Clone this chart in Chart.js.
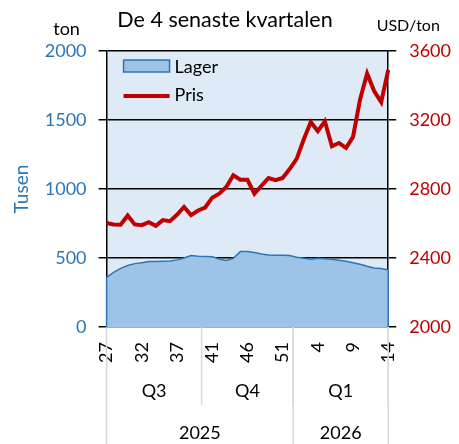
<!DOCTYPE html>
<html>
<head>
<meta charset="utf-8">
<script src="https://cdn.jsdelivr.net/npm/chart.js@4/dist/chart.umd.min.js"></script>
<style>
  body { margin: 0; background: #fff; }
  #wrap { width: 459px; height: 444px; }
</style>
</head>
<body>
<div id="wrap"><canvas id="lagerChart" width="459" height="444"></canvas></div>
<script>
// ------------------- Data -------------------//
// week numbers (week 40 is split between Q3 and Q4)
var weeks = ['27','28','29','30','31','32','33','34','35','36','37','38','39','40',
             '40','41','42','43','44','45','46','47','48','49','50','51','52',
             '1','2','3','4','5','6','7','8','9','10','11','12','13','14'];

var quarters = ['Q3', 'Q4', 'Q1'];
var quarterLengths = [14, 13, 14];
var years = ['2025', '2026'];
var yearLengths = [27, 14];

// Lager, thousand tons
var lager = [361, 397, 426, 446, 460, 467, 475, 475, 477, 479, 487, 501, 518, 513,
             511, 509, 494, 482, 499, 547, 547, 540, 530, 523, 521, 521, 518,
             506, 499, 492, 499, 496, 492, 484, 477, 467, 455, 441, 429, 424, 414];

// Pris, USD/ton
var pris = [2603, 2595, 2593, 2647, 2595, 2591, 2608, 2587, 2620, 2614, 2651, 2696, 2649, 2676,
            2693, 2750, 2773, 2812, 2880, 2854, 2854, 2773, 2819, 2864, 2851, 2864, 2916,
            2975, 3087, 3188, 3135, 3193, 3048, 3067, 3038, 3102, 3319, 3470, 3368, 3304, 3490];

var leftTicks = [0, 500, 1000, 1500, 2000];
var rightTicks = [2000, 2400, 2800, 3200, 3600];

var TITLE = 'De 4 senaste kvartalen';
var BLUE = '#2E75B6', RED = '#C00000', FONT = 'Lato';

// ------------------- Plugins -------------------//
var plotBackground = {
  id: 'plotBackground',
  beforeDraw: function(chart) {
    var a = chart.chartArea, ctx = chart.ctx;
    ctx.save();
    ctx.fillStyle = '#DEEBF7';
    ctx.fillRect(a.left, a.top, a.right - a.left, a.bottom - a.top);
    ctx.restore();
  }
};

// legend inside the plot, title and units on top, quarter/year rows under the x axis
var extras = {
  id: 'extras',
  afterDatasetsDraw: function(chart) {
    // close the area outline at both ends, like the original
    var pts = chart.getDatasetMeta(1).data, ctx = chart.ctx, bottom = chart.chartArea.bottom;
    var first = pts[0], last = pts[pts.length - 1];
    ctx.save();
    ctx.strokeStyle = chart.data.datasets[1].borderColor;
    ctx.lineWidth = 1.5;
    ctx.beginPath();
    ctx.moveTo(first.x, first.y);
    ctx.lineTo(first.x, bottom);
    ctx.moveTo(last.x, last.y);
    ctx.lineTo(last.x, bottom);
    ctx.stroke();
    ctx.restore();
  },
  afterDraw: function(chart) {
    var a = chart.chartArea, ctx = chart.ctx, x = chart.scales.x;
    var ds = chart.data.datasets;
    ctx.save();
    ctx.textBaseline = 'alphabetic';
    ctx.fillStyle = '#000';

    // title
    ctx.textAlign = 'center';
    ctx.font = '21.5px ' + FONT;
    ctx.fillText(TITLE, 225, 27);

    // legend
    ctx.textAlign = 'left';
    ctx.font = '18px ' + FONT;
    var lx = a.left + 17;
    ctx.fillStyle = ds[1].backgroundColor;
    ctx.fillRect(lx, a.top + 9, 46, 12);
    ctx.strokeStyle = ds[1].borderColor;
    ctx.lineWidth = 1.5;
    ctx.strokeRect(lx, a.top + 9, 46, 12);
    ctx.fillStyle = '#000';
    ctx.fillText(ds[1].label, lx + 51, a.top + 21.5);
    ctx.strokeStyle = ds[0].borderColor;
    ctx.lineWidth = 4;
    ctx.beginPath();
    ctx.moveTo(lx, a.top + 45);
    ctx.lineTo(lx + 46, a.top + 45);
    ctx.stroke();
    ctx.fillText(ds[0].label, lx + 51, a.top + 50);

    // units
    ctx.textAlign = 'center';
    ctx.fillText('ton', a.left - 40, 35);
    ctx.font = '16px ' + FONT;
    ctx.fillText('USD/ton', a.right + 20, 31);

    // category groups
    function edge(i) {
      if (i <= 0) return x.left;
      if (i >= weeks.length) return x.right;
      return (x.getPixelForValue(i - 1) + x.getPixelForValue(i)) / 2;
    }
    ctx.strokeStyle = '#D9D9D9';
    ctx.lineWidth = 1.5;
    ctx.font = '18px ' + FONT;
    ctx.textBaseline = 'middle';
    var start = 0, i, x0, x1;
    for (i = 0; i < quarters.length; i++) {
      x0 = edge(start);
      x1 = edge(start + quarterLengths[i]);
      ctx.beginPath();
      ctx.moveTo(x1, a.bottom);
      ctx.lineTo(x1, 405);
      ctx.stroke();
      ctx.fillText(quarters[i], (x0 + x1) / 2, 391);
      start += quarterLengths[i];
    }
    start = 0;
    ctx.beginPath();
    ctx.moveTo(x.left, a.bottom);
    ctx.lineTo(x.left, chart.height);
    ctx.stroke();
    for (i = 0; i < years.length; i++) {
      x0 = edge(start);
      x1 = edge(start + yearLengths[i]);
      ctx.beginPath();
      ctx.moveTo(x1, a.bottom);
      ctx.lineTo(x1, chart.height);
      ctx.stroke();
      ctx.fillText(years[i], (x0 + x1) / 2, 433);
      start += yearLengths[i];
    }
    ctx.restore();
  }
};

function plain(value) { return String(value); }

// ------------------- Chart -------------------//
var ctx = document.getElementById('lagerChart');
var myChart = new Chart(ctx, {
  type: 'line',
  data: {
    labels: weeks,
    datasets: [{
      label: 'Pris',
      data: pris,
      yAxisID: 'yRight',
      borderColor: RED,
      borderWidth: 4,
      pointRadius: 0,
      tension: 0,
      fill: false,
      order: 0
    }, {
      label: 'Lager',
      data: lager,
      yAxisID: 'yLeft',
      borderColor: BLUE,
      backgroundColor: '#9DC3E6',
      borderWidth: 1.5,
      pointRadius: 0,
      tension: 0,
      fill: 'origin',
      order: 1
    }]
  },
  options: {
    responsive: false,
    animation: false,
    layout: { padding: { top: 51, left: 3, right: -5, bottom: 66 } },
    plugins: {
      legend: { display: false },
      tooltip: { enabled: false },
      title: { display: false }
    },
    scales: {
      x: {
        type: 'category',
        offset: false,
        grid: { display: false, drawTicks: false },
        border: { color: '#D9D9D9', width: 1.5 },
        ticks: {
          autoSkip: false,
          maxRotation: 90,
          minRotation: 90,
          padding: 15,
          color: '#000',
          font: { family: FONT, size: 18 },
          callback: function(value, index) {
            return index % 5 === 0 ? weeks[index] : '';
          }
        }
      },
      yLeft: {
        position: 'left',
        min: 0,
        max: 2000,
        afterBuildTicks: function(scale) {
          scale.ticks = leftTicks.map(function(v) { return { value: v }; });
        },
        grid: { color: '#000', lineWidth: 1.5, tickLength: 8 },
        border: { color: '#000', width: 1.5 },
        ticks: { color: BLUE, padding: 12, font: { family: FONT, size: 18 }, callback: plain },
        title: {
          display: true,
          text: 'Tusen',
          color: BLUE,
          font: { family: FONT, size: 19 },
          padding: { top: 7, bottom: 0 }
        }
      },
      yRight: {
        position: 'right',
        min: 2000,
        max: 3600,
        afterBuildTicks: function(scale) {
          scale.ticks = rightTicks.map(function(v) { return { value: v }; });
        },
        grid: { drawOnChartArea: false, color: '#000', lineWidth: 1.5, tickLength: 8 },
        border: { color: '#000', width: 1.5 },
        ticks: { color: RED, padding: 13, font: { family: FONT, size: 18 }, callback: plain }
      }
    }
  },
  plugins: [plotBackground, extras]
});
</script>
</body>
</html>
